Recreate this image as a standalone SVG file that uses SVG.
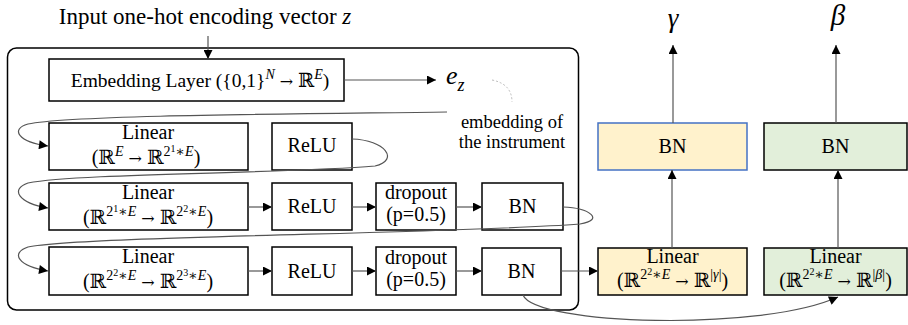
<svg xmlns="http://www.w3.org/2000/svg" width="908" height="325" viewBox="0 0 908 325" font-family="'Liberation Serif', 'DejaVu Serif', serif">
  <defs>
    <marker id="arr" viewBox="0 0 10 10" refX="10" refY="5" markerWidth="10" markerHeight="9" markerUnits="userSpaceOnUse" orient="auto">
      <path d="M0,0 L10,5 L0,10 Z" fill="#000"/>
    </marker>
    <style>
      .box { fill: #fff; stroke: #000; stroke-width: 1.5; }
      .yel { fill: #fff2cc; stroke: #000; stroke-width: 1.5; }
      .yelb { fill: #fff2cc; stroke: #4472c4; stroke-width: 1.5; }
      .grn { fill: #e2efda; stroke: #000; stroke-width: 1.5; }
      .lbl { font-size: 20px; text-anchor: middle; }
      .m { font-size: 20px; text-anchor: middle; }
      .it { font-style: italic; }
      .sup { font-size: 14px; }
      .ssup { font-size: 10px; }
      .to { font-family: "DejaVu Serif", serif; font-size: 16px; }
      .conA { fill: none; stroke: #555; stroke-width: 1.2; marker-end: url(#arr); }
    </style>
  </defs>

  <!-- embedding network container -->
  <rect id="container" x="7.5" y="48" width="571" height="262" rx="9" fill="none" stroke="#000" stroke-width="1.5"/>

  <text x="205" y="24" style="font-size:23px" text-anchor="middle">Input one-hot encoding vector <tspan class="it">z</tspan></text>

  <g id="embedding">
    <rect class="box" x="49" y="59" width="295" height="42"/>
    <text class="m" x="200" y="87" style="font-size:19.5px">Embedding Layer ({0,1}<tspan class="sup it" dy="-8">N</tspan><tspan dy="8">&#160;</tspan><tspan class="to">→</tspan>&#160;ℝ<tspan class="sup it" dy="-8">E</tspan><tspan dy="8">)</tspan></text>
  </g>

  <g id="ez">
    <text x="446" y="84" style="font-size:26px" class="it">e<tspan dy="7" style="font-size:18px">z</tspan></text>
  </g>

  <g id="annotation">
    <path d="M492,80 Q512,84 512,102" fill="none" stroke="#bbb" stroke-width="1" stroke-dasharray="2 2"/>
    <text x="512" y="128" style="font-size:18.5px" text-anchor="middle">embedding of</text>
    <text x="512" y="148" style="font-size:18.5px" text-anchor="middle">the instrument</text>
  </g>

  <!-- row 1 -->
  <g id="linear1">
    <rect class="box" x="49" y="123" width="199" height="47"/>
    <text class="lbl" x="148" y="139">Linear</text>
    <text class="m" x="146" y="164">(ℝ<tspan class="sup it" dy="-8">E</tspan><tspan dy="8">&#160;</tspan><tspan class="to">→</tspan>&#160;ℝ<tspan class="sup" dy="-8">2</tspan><tspan class="ssup" dy="-4">1</tspan><tspan class="sup" dy="4">∗<tspan class="it">E</tspan></tspan><tspan dy="8">)</tspan></text>
  </g>
  <g id="relu1">
    <rect class="box" x="272" y="123" width="80" height="47"/>
    <text class="lbl" x="312" y="152">ReLU</text>
  </g>

  <!-- row 2 -->
  <g id="linear2">
    <rect class="box" x="49" y="183" width="199" height="47"/>
    <text class="lbl" x="148" y="199">Linear</text>
    <text class="m" x="148" y="224">(ℝ<tspan class="sup" dy="-8">2</tspan><tspan class="ssup" dy="-4">1</tspan><tspan class="sup" dy="4">∗<tspan class="it">E</tspan></tspan><tspan dy="8">&#160;</tspan><tspan class="to">→</tspan>&#160;ℝ<tspan class="sup" dy="-8">2</tspan><tspan class="ssup" dy="-4">2</tspan><tspan class="sup" dy="4">∗<tspan class="it">E</tspan></tspan><tspan dy="8">)</tspan></text>
  </g>
  <g id="relu2">
    <rect class="box" x="272" y="183" width="80" height="47"/>
    <text class="lbl" x="312" y="213">ReLU</text>
  </g>
  <g id="dropout2">
    <rect class="box" x="376" y="183" width="80" height="47"/>
    <text class="lbl" x="416" y="199">dropout</text>
    <text class="lbl" x="416" y="221">(p=0.5)</text>
  </g>
  <g id="bn2">
    <rect class="box" x="482" y="183" width="81" height="47"/>
    <text class="lbl" x="522.5" y="213">BN</text>
  </g>

  <!-- row 3 -->
  <g id="linear3">
    <rect class="box" x="49" y="247" width="199" height="48"/>
    <text class="lbl" x="148" y="263">Linear</text>
    <text class="m" x="148" y="288">(ℝ<tspan class="sup" dy="-8">2</tspan><tspan class="ssup" dy="-4">2</tspan><tspan class="sup" dy="4">∗<tspan class="it">E</tspan></tspan><tspan dy="8">&#160;</tspan><tspan class="to">→</tspan>&#160;ℝ<tspan class="sup" dy="-8">2</tspan><tspan class="ssup" dy="-4">3</tspan><tspan class="sup" dy="4">∗<tspan class="it">E</tspan></tspan><tspan dy="8">)</tspan></text>
  </g>
  <g id="relu3">
    <rect class="box" x="272" y="247" width="80" height="48"/>
    <text class="lbl" x="312" y="278">ReLU</text>
  </g>
  <g id="dropout3">
    <rect class="box" x="376" y="247" width="80" height="48"/>
    <text class="lbl" x="416" y="264">dropout</text>
    <text class="lbl" x="416" y="286">(p=0.5)</text>
  </g>
  <g id="bn3">
    <rect class="box" x="482" y="248" width="79" height="47"/>
    <text class="lbl" x="521.5" y="278">BN</text>
  </g>

  <!-- gamma branch -->
  <g id="bn_gamma">
    <rect class="yelb" x="598" y="123" width="149" height="47"/>
    <text class="lbl" x="672.5" y="153">BN</text>
  </g>
  <g id="linear_gamma">
    <rect class="yel" x="598" y="248" width="149" height="47"/>
    <text class="lbl" x="672.5" y="263">Linear</text>
    <text class="m" x="672.5" y="287">(ℝ<tspan class="sup" dy="-8">2</tspan><tspan class="ssup" dy="-4">2</tspan><tspan class="sup" dy="4">∗<tspan class="it">E</tspan></tspan><tspan dy="8">&#160;</tspan><tspan class="to">→</tspan>&#160;ℝ<tspan class="sup" dy="-8">|<tspan class="it">γ</tspan>|</tspan><tspan dy="8">)</tspan></text>
  </g>
  <g id="gamma">
    <text x="673" y="27" style="font-size:27px" class="it" text-anchor="middle">γ</text>
  </g>

  <!-- beta branch -->
  <g id="bn_beta">
    <rect class="grn" x="764" y="123" width="143" height="47"/>
    <text class="lbl" x="835.5" y="153">BN</text>
  </g>
  <g id="linear_beta">
    <rect class="grn" x="764" y="248" width="143" height="47"/>
    <text class="lbl" x="835.5" y="263">Linear</text>
    <text class="m" x="835.5" y="287">(ℝ<tspan class="sup" dy="-8">2</tspan><tspan class="ssup" dy="-4">2</tspan><tspan class="sup" dy="4">∗<tspan class="it">E</tspan></tspan><tspan dy="8">&#160;</tspan><tspan class="to">→</tspan>&#160;ℝ<tspan class="sup" dy="-8">|<tspan class="it">β</tspan>|</tspan><tspan dy="8">)</tspan></text>
  </g>
  <g id="beta">
    <text x="838" y="25" style="font-size:29px" class="it" text-anchor="middle">β</text>
  </g>

  <g id="connectors">
    <path class="conA" d="M208,36 L208,59"/>
    <path class="conA" d="M344,80 L436,80"/>
    <path class="conA" d="M447,112 C300,114 70,115 28,124 C10,129 18,142 48,146"/>
    <path class="conA" d="M352,139 C385,140 400,160 375,166 C280,174 80,173 28,183 C10,189 18,203 48,208"/>
    <path class="conA" d="M248,207 L272,207"/>
    <path class="conA" d="M352,207 L376,207"/>
    <path class="conA" d="M456,207 L482,207"/>
    <path class="conA" d="M563,207 C590,208 605,220 580,224 C450,234 80,236 28,247 C10,253 18,266 48,271"/>
    <path class="conA" d="M248,271 L272,271"/>
    <path class="conA" d="M352,271 L376,271"/>
    <path class="conA" d="M456,271 L482,271"/>
    <path class="conA" d="M561,271 L598,271"/>
    <path class="conA" d="M523,295 C535,325 760,332 838,297"/>
    <path class="conA" d="M672,248 L672,170"/>
    <path class="conA" d="M838,248 L838,170"/>
    <path class="conA" d="M673,123 L673,45"/>
    <path class="conA" d="M836,123 L836,45"/>
  </g>
</svg>
